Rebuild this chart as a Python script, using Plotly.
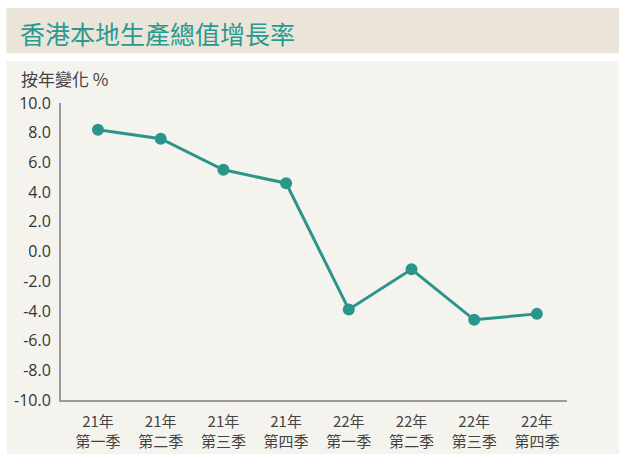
import plotly.graph_objects as go

categories = ["21年<br>第一季", "21年<br>第二季", "21年<br>第三季", "21年<br>第四季",
              "22年<br>第一季", "22年<br>第二季", "22年<br>第三季", "22年<br>第四季"]
values = [8.2, 7.6, 5.5, 4.6, -3.9, -1.2, -4.6, -4.2]
y_ticks = [10, 8, 6, 4, 2, 0, -2, -4, -6, -8, -10]
y_tick_labels = [f"{v:.1f}" for v in y_ticks]
title_text = "香港本地生產總值增長率"
y_title = "按年變化 %"

W, H = 619, 454
L, R, T, B = 61, 52, 103, 54
pw, ph = W - L - R, H - T - B

def px(x):
    return (x - L) / pw

def py(y):
    return (H - B - y) / ph

teal = "#2A968A"
fig = go.Figure()
fig.add_trace(go.Scatter(
    x=list(range(len(categories))), y=values, mode="lines+markers",
    line=dict(color=teal, width=3),
    marker=dict(color=teal, size=12),
    hoverinfo="skip", showlegend=False,
))

shapes = [
    dict(type="rect", xref="paper", yref="paper", x0=px(6.5), x1=px(619), y0=py(53.3), y1=py(8),
         fillcolor="#EAE4D9", line=dict(width=0), layer="below"),
    dict(type="rect", xref="paper", yref="paper", x0=px(6.5), x1=px(619), y0=py(454), y1=py(61),
         fillcolor="#F4F3EE", line=dict(width=0), layer="below"),
]

fig.update_layout(
    width=W, height=H,
    margin=dict(l=L, r=R, t=T, b=B, autoexpand=False),
    paper_bgcolor="white", plot_bgcolor="rgba(0,0,0,0)",
    shapes=shapes,
    annotations=[
        dict(text=title_text, xref="paper", yref="paper", x=px(18), y=py(33),
             xanchor="left", yanchor="middle", showarrow=False,
             font=dict(family="Noto Sans CJK TC", size=25, color="#2A9A8E")),
        dict(text=y_title, xref="paper", yref="paper", x=px(19), y=py(78),
             xanchor="left", yanchor="middle", showarrow=False,
             font=dict(family="Noto Sans CJK TC", size=17, color="#444444")),
    ],
    xaxis=dict(
        range=[-0.59, 7.48], tickmode="array", tickvals=list(range(len(categories))),
        ticktext=categories, showgrid=False, zeroline=False, automargin=False,
        showline=True, linecolor="#9A9A9A", linewidth=2, ticks="",
        tickfont=dict(family="Noto Sans CJK TC", size=15, color="#444444"),
        ticklabelstandoff=7, fixedrange=True,
    ),
    yaxis=dict(
        range=[-10, 10], tickmode="array", tickvals=y_ticks, ticktext=y_tick_labels,
        showgrid=False, zeroline=False, automargin=False,
        showline=True, linecolor="#9A9A9A", linewidth=2, ticks="",
        tickfont=dict(family="Open Sans", size=16, color="#333333"),
        ticklabelstandoff=5, fixedrange=True,
    ),
)

fig.write_html("out.html", config={"displayModeBar": False},
               post_script="document.body.style.margin='0';")
